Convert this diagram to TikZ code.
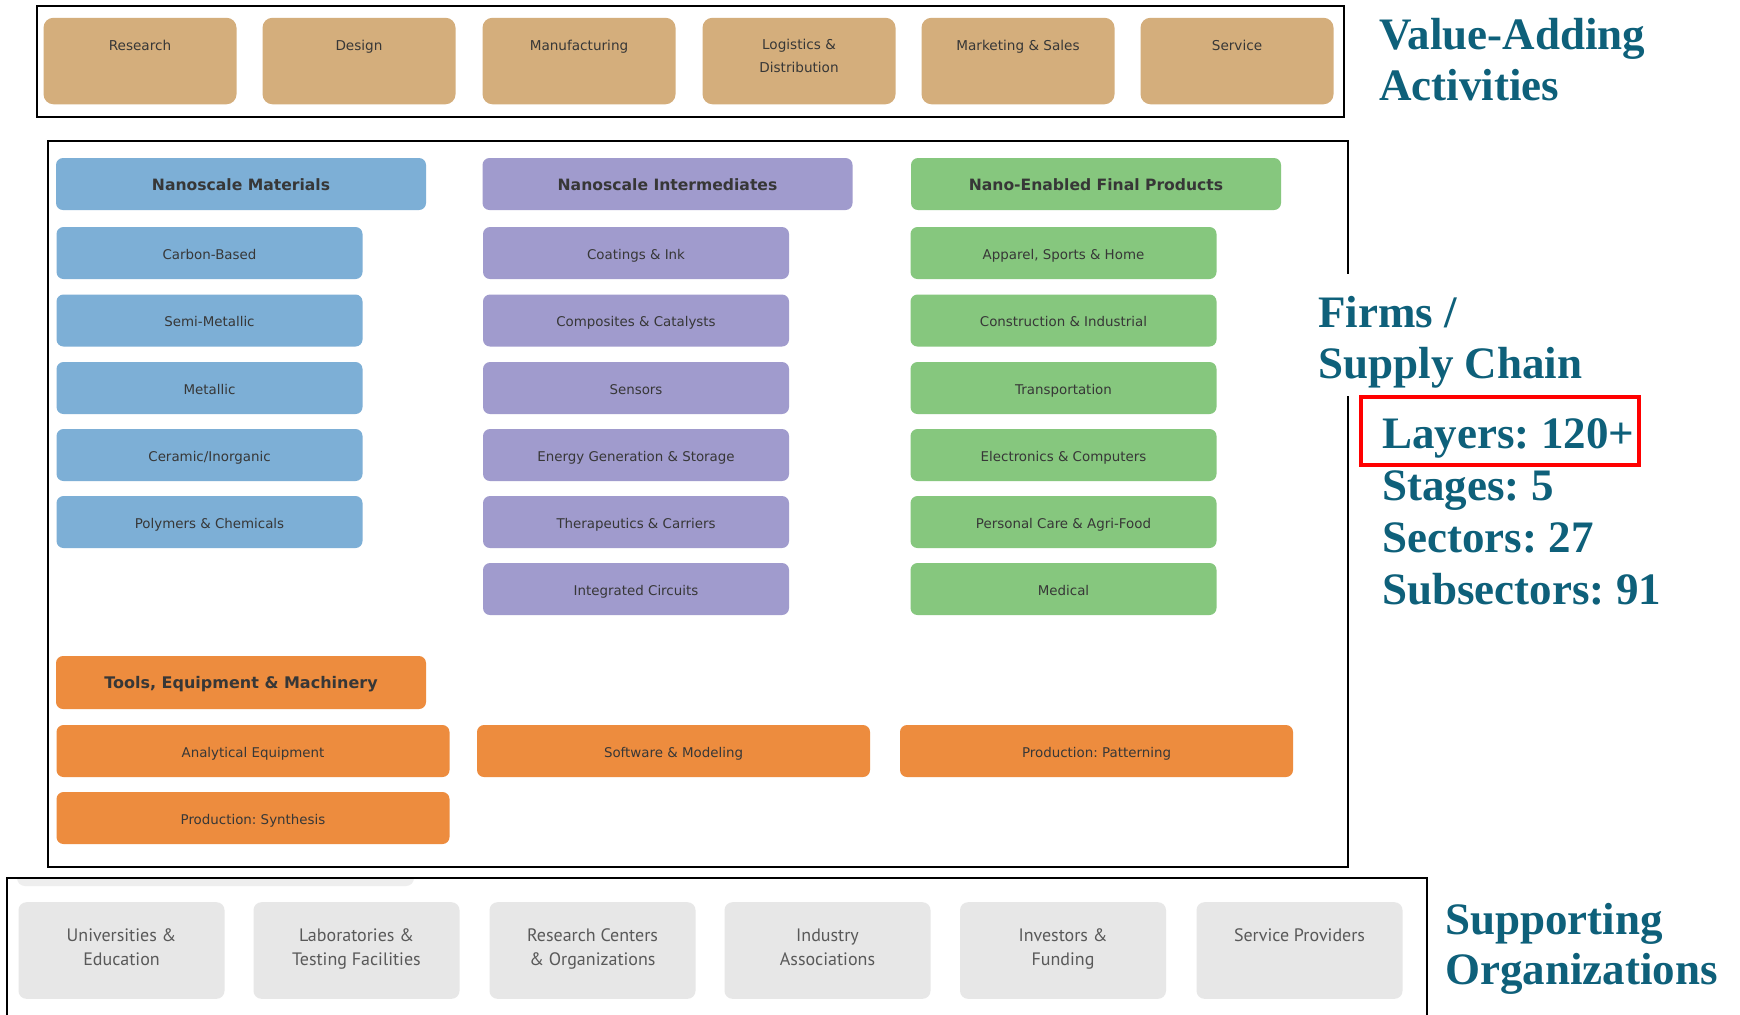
\documentclass[tikz,border=0pt]{standalone}
\usepackage{fontspec}
\setmainfont{DejaVu Sans}
\newfontfamily\tagfont{Liberation Serif}
\newfontfamily\orgfont{PT Sans}
\usetikzlibrary{positioning}
\frenchspacing

\definecolor{tanfill}{RGB}{212,174,124}
\definecolor{matblue}{RGB}{125,175,214}
\definecolor{midpurple}{RGB}{160,155,205}
\definecolor{prodgreen}{RGB}{134,199,126}
\definecolor{toolorange}{RGB}{237,140,62}
\definecolor{orggray}{RGB}{231,231,231}
\definecolor{tagteal}{RGB}{14,96,122}
\definecolor{boxtext}{RGB}{55,55,55}

\tikzset{
  oneline/.style={text height=1.6ex, text depth=.45ex},
  box/.style={oneline, rounded corners=3.5pt, inner sep=0pt, text=boxtext, font=\fontsize{6.7}{8}\selectfont},
  actbox/.style={rounded corners=5pt, fill=tanfill, minimum width=96.5pt, minimum height=43.25pt},
  acttext/.style={text=boxtext, align=center, inner sep=0pt, font=\fontsize{6.8}{11.1}\selectfont},
  head/.style={box, minimum width=185pt, minimum height=26pt, font=\bfseries\fontsize{7.8}{9}\selectfont},
  sub/.style={box, minimum width=153pt, minimum height=26pt},
  tool/.style={box, fill=toolorange, minimum width=196.5pt, minimum height=26pt},
  org/.style={rounded corners=4pt, fill=orggray, minimum width=103pt, minimum height=48.3pt},
  orgtext/.style={text=black!65, align=center, inner sep=0pt, text depth=2.2pt, font=\orgfont\fontsize{9}{12.2}\selectfont},
  tag/.style={anchor=base west, text=tagteal, inner sep=0pt, font=\tagfont\bfseries\fontsize{22.5}{25}\selectfont},
  frame/.style={draw=black, line width=1.2pt}
}

\begin{document}
\begin{tikzpicture}[x=0.5pt,y=-0.5pt]
  \fill[white] (0,0) rectangle (1740,1014);
  \useasboundingbox (0,0) rectangle (1740,1014);

  % value-adding activities
  \draw[frame] (37,6) rectangle (1344,117);
  \node[actbox] (research) at (140,61) {};
  \node[actbox] (design) at (359,61) {};
  \node[actbox] (manufacturing) at (579,61) {};
  \node[actbox] (logistics) at (799,61) {};
  \node[actbox] (marketing) at (1018,61) {};
  \node[actbox] (service) at (1237,61) {};
  \node[acttext, oneline] (research-t) at (140,44.5) {Research};
  \node[acttext, oneline] (design-t) at (359,44.5) {Design};
  \node[acttext, oneline] (manufacturing-t) at (579,44.5) {Manufacturing};
  \node[acttext] (logistics-t) at (799,56) {Logistics \&\\Distribution};
  \node[acttext, oneline] (marketing-t) at (1018,44.5) {Marketing \& Sales};
  \node[acttext, oneline] (service-t) at (1237,44.5) {Service};
  \node[tag] (value) at (1379,49) {Value-Adding};
  \node[tag] (activities) at (1379,100) {Activities};

  % firms / supply chain
  \draw[frame] (48,141) rectangle (1348,867);
  \fill[white] (1300,274) rectangle (1640,396);

  \node[head, fill=matblue] (materials) at (241,184) {Nanoscale Materials};
  \node[sub, fill=matblue] (carbon) at (209.5,253) {Carbon-Based};
  \node[sub, fill=matblue] (semimetal) at (209.5,320.5) {Semi-Metallic};
  \node[sub, fill=matblue] (metallic) at (209.5,388) {Metallic};
  \node[sub, fill=matblue] (ceramic) at (209.5,455) {Ceramic/Inorganic};
  \node[sub, fill=matblue] (polymers) at (209.5,522) {Polymers \& Chemicals};

  \node[head, fill=midpurple] (intermediates) at (667.5,184) {Nanoscale Intermediates};
  \node[sub, fill=midpurple] (coatings) at (636,253) {Coatings \& Ink};
  \node[sub, fill=midpurple] (composites) at (636,320.5) {Composites \& Catalysts};
  \node[sub, fill=midpurple] (sensors) at (636,388) {Sensors};
  \node[sub, fill=midpurple] (energy) at (636,455) {Energy Generation \& Storage};
  \node[sub, fill=midpurple] (therapeutics) at (636,522) {Therapeutics \& Carriers};
  \node[sub, fill=midpurple] (circuits) at (636,589) {Integrated Circuits};

  \node[head, fill=prodgreen] (products) at (1096,184) {Nano-Enabled Final Products};
  \node[sub, fill=prodgreen] (apparel) at (1063.5,253) {Apparel, Sports \& Home};
  \node[sub, fill=prodgreen] (construction) at (1063.5,320.5) {Construction \& Industrial};
  \node[sub, fill=prodgreen] (transport) at (1063.5,388) {Transportation};
  \node[sub, fill=prodgreen] (electronics) at (1063.5,455) {Electronics \& Computers};
  \node[sub, fill=prodgreen] (personal) at (1063.5,522) {Personal Care \& Agri-Food};
  \node[sub, fill=prodgreen] (medical) at (1063.5,589) {Medical};

  \node[head, fill=toolorange, minimum height=26.5pt, font=\bfseries\fontsize{8}{9}\selectfont] (tools) at (241,682.5) {Tools, Equipment \& Machinery};
  \node[tool] (analytical) at (253,751) {Analytical Equipment};
  \node[tool] (software) at (673.5,751) {Software \& Modeling};
  \node[tool] (patterning) at (1096.5,751) {Production: Patterning};
  \node[tool] (synthesis) at (253,818) {Production: Synthesis};

  \node[tag] (firms) at (1318,327) {Firms /};
  \node[tag] (supply) at (1318,378) {Supply Chain};
  \node[tag] (layers) at (1382,448) {Layers: 120+};
  \node[tag] (stages) at (1382,500) {Stages: 5};
  \node[tag] (sectors) at (1382,552) {Sectors: 27};
  \node[tag] (subsectors) at (1382,604) {Subsectors: 91};
  \draw[red, line width=2.2pt] (1361,397) rectangle (1639,465);

  % supporting organizations
  \begin{scope}
    \clip (0,879) rectangle (1740,1014);
    \fill[orggray!70, rounded corners=4pt] (17,850) rectangle (414,886);
  \end{scope}
  \draw[frame] (7,1020) -- (7,878) -- (1427,878) -- (1427,1020);
  \node[org] (universities) at (121.5,950.5) {};
  \node[org] (laboratories) at (356.5,950.5) {};
  \node[org] (centers) at (592.5,950.5) {};
  \node[org] (associations) at (827.5,950.5) {};
  \node[org] (investors) at (1063,950.5) {};
  \node[org] (providers) at (1299.5,950.5) {};
  \node[orgtext] (universities-t) at (121.5,949.5) {Universities \&\\Education};
  \node[orgtext] (laboratories-t) at (356.5,949.5) {Laboratories \&\\Testing Facilities};
  \node[orgtext] (centers-t) at (592.5,949.5) {Research Centers\\\& Organizations};
  \node[orgtext] (associations-t) at (827.5,949.5) {Industry\\Associations};
  \node[orgtext] (investors-t) at (1063,949.5) {Investors \&\\Funding};
  \node[orgtext] (providers-t) at (1299.5,937.5) {Service Providers};
  \node[tag] (supporting) at (1445,934) {Supporting};
  \node[tag] (organizations) at (1445,984) {Organizations};
\end{tikzpicture}
\end{document}
